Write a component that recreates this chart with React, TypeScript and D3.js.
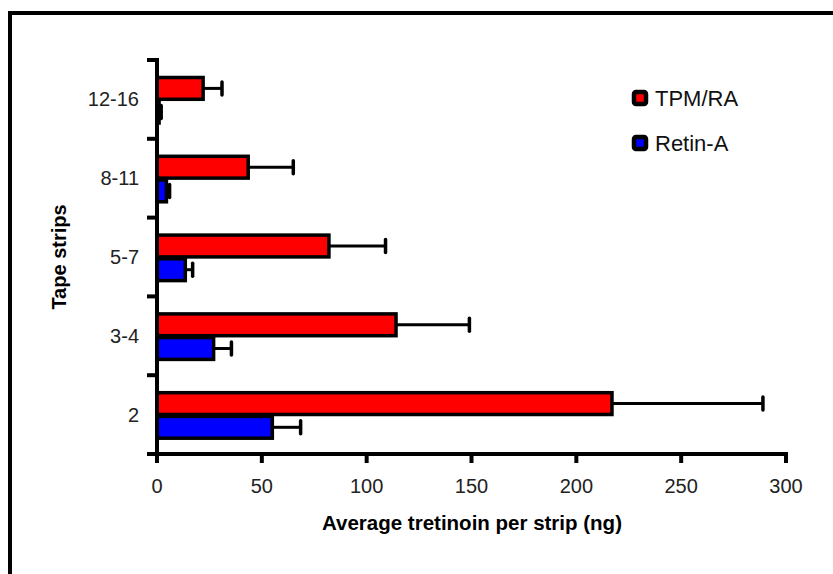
import React, { useEffect, useRef } from 'react';
import * as d3 from 'd3';

// categories bottom -> top
const categories = ['2', '3-4', '5-7', '8-11', '12-16'];
const seriesNames = ['TPM/RA', 'Retin-A'];
const seriesColors = ['#ff0000', '#0000ff'];

const tpmValues = [217, 114, 82, 43.5, 22];
const tpmErrors = [72, 35, 27, 21.5, 9];
const retinValues = [55, 27, 13.5, 4.5, 1];
const retinErrors = [13.5, 8.5, 3.5, 1.5, 1];

const xTicks = [0, 50, 100, 150, 200, 250, 300];

const App: React.FC = () => {
  const svgRef = useRef<SVGSVGElement>(null);

  useEffect(() => {
    document.body.style.margin = '0';
    if (!svgRef.current) return;
    const svg = d3.select(svgRef.current);
    svg.selectAll('*').remove();

    const font = '"Liberation Sans", Arial, sans-serif';

    // outer frame
    svg.append('rect')
      .attr('x', 10).attr('y', 13)
      .attr('width', 900).attr('height', 700)
      .attr('fill', 'white')
      .attr('stroke', '#000').attr('stroke-width', 4);

    const x = d3.scaleLinear().domain([0, 300]).range([157, 786]);
    const y0 = d3.scaleBand<string>()
      .domain([...categories].reverse())
      .range([60, 454]);
    const y1 = d3.scaleBand<string>()
      .domain(seriesNames)
      .range([17.5, 63])
      .paddingInner(0.08);

    const series = [
      { name: seriesNames[0], values: tpmValues, errors: tpmErrors, color: seriesColors[0] },
      { name: seriesNames[1], values: retinValues, errors: retinErrors, color: seriesColors[1] }
    ];

    const g = svg.append('g');

    series.forEach(s => {
      categories.forEach((c, i) => {
        const yTop = (y0(c) as number) + (y1(s.name) as number);
        const h = y1.bandwidth();
        const v = s.values[i];
        const e = s.errors[i];
        const cy = yTop + h / 2;
        // error bar
        g.append('line')
          .attr('x1', x(v)).attr('x2', x(v + e))
          .attr('y1', cy).attr('y2', cy)
          .attr('stroke', '#000').attr('stroke-width', 3);
        g.append('line')
          .attr('x1', x(v + e)).attr('x2', x(v + e))
          .attr('y1', cy - 6.5).attr('y2', cy + 6.5)
          .attr('stroke', '#000').attr('stroke-width', 3.5)
          .attr('stroke-linecap', 'round');
        // bar
        g.append('rect')
          .attr('x', x(0))
          .attr('y', yTop)
          .attr('width', Math.max(0, x(v) - x(0)))
          .attr('height', h)
          .attr('fill', s.color)
          .attr('stroke', '#000')
          .attr('stroke-width', 3.5);
      });
    });

    // y axis
    svg.append('line')
      .attr('x1', 157).attr('x2', 157)
      .attr('y1', 58).attr('y2', 456)
      .attr('stroke', '#000').attr('stroke-width', 4);
    const yBounds = [...categories].reverse().map(c => y0(c) as number).concat([454]);
    yBounds.forEach(b => {
      svg.append('line')
        .attr('x1', 147).attr('x2', 157)
        .attr('y1', b).attr('y2', b)
        .attr('stroke', '#000').attr('stroke-width', 4);
    });
    categories.forEach(c => {
      svg.append('text')
        .attr('x', 139)
        .attr('y', (y0(c) as number) + y0.bandwidth() / 2 + 7)
        .attr('text-anchor', 'end')
        .attr('font-family', font)
        .attr('font-size', 20)
        .attr('fill', '#222')
        .text(c);
    });

    // x axis
    svg.append('line')
      .attr('x1', 148).attr('x2', 788)
      .attr('y1', 454).attr('y2', 454)
      .attr('stroke', '#000').attr('stroke-width', 4);
    xTicks.forEach(t => {
      svg.append('line')
        .attr('x1', x(t)).attr('x2', x(t))
        .attr('y1', 454).attr('y2', 463)
        .attr('stroke', '#000').attr('stroke-width', 4);
      svg.append('text')
        .attr('x', x(t))
        .attr('y', 493)
        .attr('text-anchor', 'middle')
        .attr('font-family', font)
        .attr('font-size', 20)
        .attr('fill', '#222')
        .text(t);
    });

    // axis titles
    svg.append('text')
      .attr('x', 472).attr('y', 530)
      .attr('text-anchor', 'middle')
      .attr('font-family', font)
      .attr('font-weight', 'bold')
      .attr('font-size', 20.5)
      .attr('fill', '#000')
      .text('Average tretinoin per strip (ng)');

    svg.append('text')
      .attr('transform', 'translate(66,257) rotate(-90)')
      .attr('text-anchor', 'middle')
      .attr('font-family', font)
      .attr('font-weight', 'bold')
      .attr('font-size', 20)
      .attr('fill', '#000')
      .text('Tape strips');

    // legend
    series.forEach((s, i) => {
      const ly = 98 + i * 45;
      svg.append('rect')
        .attr('x', 634).attr('y', ly - 6)
        .attr('width', 12).attr('height', 12)
        .attr('rx', 2)
        .attr('fill', s.color)
        .attr('stroke', '#000').attr('stroke-width', 4.5);
      svg.append('text')
        .attr('x', 655).attr('y', ly + 8)
        .attr('font-family', font)
        .attr('font-size', 22)
        .attr('fill', '#111')
        .text(s.name);
    });
  }, []);

  return (
    <svg ref={svgRef} width={833} height={574} style={{ display: 'block', background: '#fff' }} />
  );
};

export default App;
